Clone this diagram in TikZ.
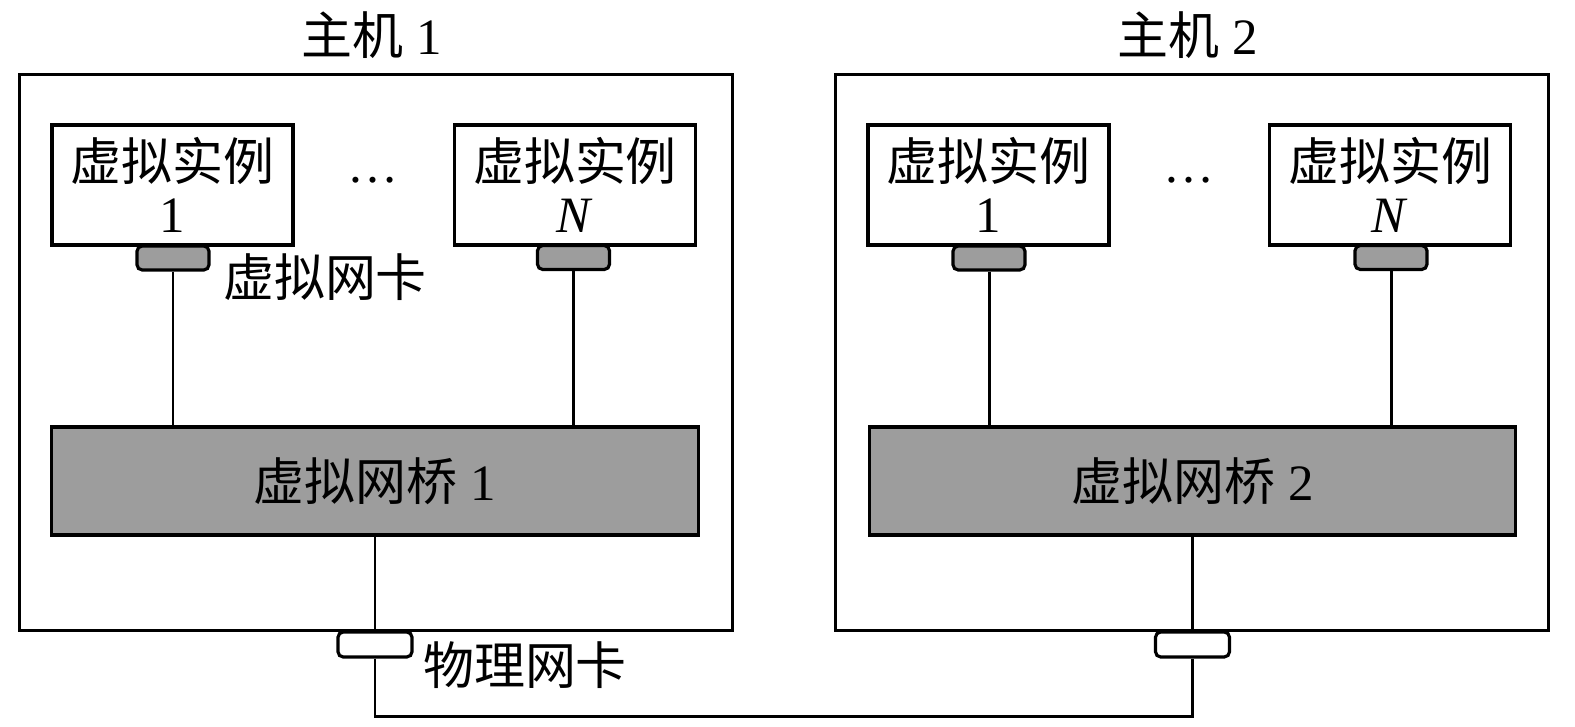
\documentclass[tikz,border=0pt]{standalone}
\usepackage{fontspec}
\setmainfont{Liberation Serif}
\newfontfamily\cjk{Noto Sans CJK SC}
\usetikzlibrary{calc}
\definecolor{boxgray}{HTML}{9D9D9D}

\begin{document}
\begin{tikzpicture}[x=0.01cm,y=-0.01cm,
		every node/.style={font=\fontsize{14.5}{15}\selectfont},
		hostbox/.style={draw,line width=0.9pt,minimum width=7.12cm,minimum height=5.55cm},
		vmbox/.style={draw,line width=0.9pt,minimum width=2.41cm,minimum height=1.2cm,align=center,inner sep=0pt},
		bridgebox/.style={draw,line width=0.9pt,fill=boxgray,minimum width=6.46cm,minimum height=1.08cm},
		vnic/.style={draw,line width=0.9pt,fill=boxgray,rounded corners=1.5pt,minimum width=0.72cm,minimum height=0.24cm,inner sep=0pt},
		pnic/.style={draw,line width=0.9pt,fill=white,rounded corners=1.5pt,minimum width=0.74cm,minimum height=0.25cm,inner sep=0pt},
		wire/.style={line width=0.85pt}]
	\useasboundingbox (0,0) rectangle (1575,727);
	
	% host 1
	\node[hostbox] (h1) at (376,352.5) {};
	\node (t1) at (372,35) {{\cjk 主机} 1};
	\node[vmbox] (vm11) at (172.5,185) {{\cjk 虚拟实例}\\1};
	\node[vmbox] (vm1n) at (575,185) {{\cjk 虚拟实例}\\\textit{N}};
	\node (d1) at (373,180) {\dots};
	\node[vnic] (n11) at (173,258) {};
	\node[vnic] (n1n) at (573.5,257.5) {};
	\node (lv) at (325,277) {\cjk 虚拟网卡};
	\node[bridgebox] (br1) at (375,481) {{\cjk 虚拟网桥} 1};
	\node[pnic] (p1) at (375,644.5) {};
	\node (lp) at (525,665) {\cjk 物理网卡};
	
	% host 2
	\node[hostbox] (h2) at (1192,352.5) {};
	\node (t2) at (1188,35) {{\cjk 主机} 2};
	\node[vmbox] (vm21) at (988.5,185) {{\cjk 虚拟实例}\\1};
	\node[vmbox] (vm2n) at (1390,185) {{\cjk 虚拟实例}\\\textit{N}};
	\node (d2) at (1189,180) {\dots};
	\node[vnic] (n21) at (989,258) {};
	\node[vnic] (n2n) at (1391,257.5) {};
	\node[bridgebox] (br2) at (1192.5,481) {{\cjk 虚拟网桥} 2};
	\node[pnic] (p2) at (1192.5,644.5) {};
	
	% wires
	\draw[wire] (n11.south) -- (n11.south |- br1.north);
	\draw[wire] (n1n.south) -- (n1n.south |- br1.north);
	\draw[wire] (n21.south) -- (n21.south |- br2.north);
	\draw[wire] (n2n.south) -- (n2n.south |- br2.north);
	\draw[wire] (br1.south -| p1.north) -- (p1.north);
	\draw[wire] (br2.south -| p2.north) -- (p2.north);
	\coordinate (lk) at (785,716);
	\draw[wire] (p1.south) -- (p1.south |- lk) -- (p2.south |- lk) -- (p2.south);
\end{tikzpicture}
\end{document}
